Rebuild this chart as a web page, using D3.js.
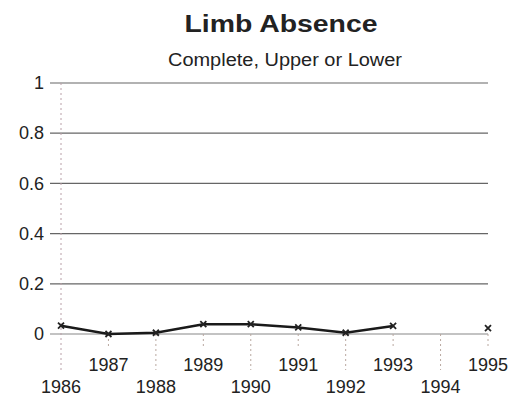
<!DOCTYPE html>
<html>
<head>
<meta charset="utf-8">
<script src="https://cdn.jsdelivr.net/npm/d3@7"></script>
<style>
  body { margin: 0; background: #fff; }
  text { font-family: Arial, "Liberation Sans", sans-serif; fill: #222; }
</style>
</head>
<body>
<script>
const years = [1986, 1987, 1988, 1989, 1990, 1991, 1992, 1993, 1994, 1995]
const rates = [0.033, 0, 0.005, 0.039, 0.039, 0.026, 0.005, 0.032, null, 0.023]
const yTicks = [0, 0.2, 0.4, 0.6, 0.8, 1]

const width = 511
const height = 401

const svg = d3.select('body')
  .append('svg')
  .attr('width', width)
  .attr('height', height)

const x = d3.scalePoint()
  .domain(years)
  .range([61, 488])

const y = d3.scaleLinear()
  .domain([0, 1])
  .range([334, 83])

const gridLeft = 50
const gridRight = 488

// titles
svg.append('text')
  .attr('x', 281)
  .attr('y', 32)
  .attr('text-anchor', 'middle')
  .attr('font-size', 23)
  .attr('font-weight', 'bold')
  .attr('textLength', 193)
  .attr('lengthAdjust', 'spacingAndGlyphs')
  .text('Limb Absence')

svg.append('text')
  .attr('x', 285)
  .attr('y', 66)
  .attr('text-anchor', 'middle')
  .attr('font-size', 18)
  .attr('textLength', 234)
  .attr('lengthAdjust', 'spacingAndGlyphs')
  .text('Complete, Upper or Lower')

// horizontal gridlines
svg.append('g')
  .selectAll('line')
  .data(yTicks)
  .enter().append('line')
  .attr('x1', gridLeft)
  .attr('x2', gridRight)
  .attr('y1', d => y(d))
  .attr('y2', d => y(d))
  .attr('stroke', d => d === 0 ? '#888' : '#666')
  .attr('stroke-width', 1.2)

// y axis labels
const yAxis = d3.axisLeft(y)
  .tickValues(yTicks)
  .tickFormat(d => d === 0 ? '0' : d === 1 ? '1' : d3.format('.1f')(d))
  .tickSize(0)
  .tickPadding(6)

svg.append('g')
  .attr('transform', `translate(${gridLeft},0)`)
  .call(yAxis)
  .call(g => g.select('.domain').remove())
  .call(g => g.selectAll('text')
    .attr('font-size', 18)
    .attr('font-family', 'Arial, "Liberation Sans", sans-serif')
    .attr('fill', '#222'))

// full height dotted line at first year
svg.append('line')
  .attr('x1', x(years[0]))
  .attr('x2', x(years[0]))
  .attr('y1', y(1))
  .attr('y2', 370)
  .attr('stroke', '#b9a0a8')
  .attr('stroke-width', 1)
  .attr('stroke-dasharray', '2 3')

// year tick lines below the axis
svg.append('g')
  .selectAll('line')
  .data(years.slice(1))
  .enter().append('line')
  .attr('x1', d => x(d))
  .attr('x2', d => x(d))
  .attr('y1', y(0))
  .attr('y2', (d, i) => (i % 2 === 0) ? 347 : 370)
  .attr('stroke', '#b9a8a0')
  .attr('stroke-width', 1)
  .attr('stroke-dasharray', '2 3')

// year labels, staggered
svg.append('g')
  .selectAll('text')
  .data(years)
  .enter().append('text')
  .attr('x', d => x(d))
  .attr('y', (d, i) => (i % 2 === 0) ? 393 : 371)
  .attr('text-anchor', 'middle')
  .attr('font-size', 18)
  .text(d => d)

// data line
const line = d3.line()
  .defined(d => d.v !== null)
  .x(d => x(d.year))
  .y(d => y(d.v))

const pts = years.map((year, i) => ({ year, v: rates[i] }))
const linePts = pts.slice(0, 8)

svg.append('path')
  .datum(linePts)
  .attr('d', line)
  .attr('fill', 'none')
  .attr('stroke', '#1a1a1a')
  .attr('stroke-width', 2.6)

// x markers
const m = 3
svg.append('g')
  .selectAll('path')
  .data(pts.filter(d => d.v !== null))
  .enter().append('path')
  .attr('d', d => {
    const cx = x(d.year), cy = y(d.v)
    return `M${cx - m},${cy - m}L${cx + m},${cy + m}M${cx - m},${cy + m}L${cx + m},${cy - m}`
  })
  .attr('stroke', '#222')
  .attr('stroke-width', 1.8)
</script>
</body>
</html>
